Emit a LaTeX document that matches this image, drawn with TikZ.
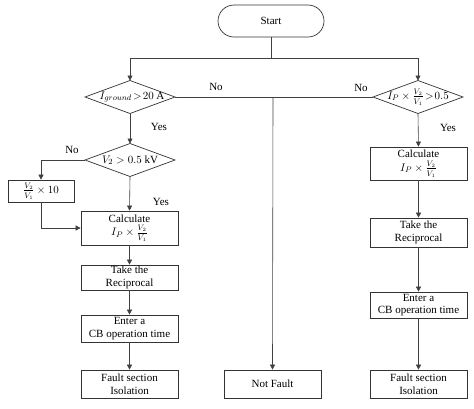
\documentclass[tikz,border=0pt]{standalone}
\usepackage{amsmath}
\usepackage{fontspec}
\setmainfont{Liberation Serif}
\usetikzlibrary{shapes.geometric,arrows.meta}
\newcommand{\drawdmd}[3]{%
  \coordinate (#1-n) at (#2,#3-16.5);
  \coordinate (#1-s) at (#2,#3+16.5);
  \coordinate (#1-e) at (#2+45,#3);
  \coordinate (#1-w) at (#2-45,#3);
  \draw[draw=black!80,line width=0.7pt] (#1-n) -- (#1-e) -- (#1-s) -- (#1-w) -- cycle;}
\newcommand{\vfr}{\genfrac{}{}{0.4pt}{1}{V_2\rule[-1.5pt]{0pt}{0pt}}{V_1\rule{0pt}{7pt}}}
\begin{document}
\begin{tikzpicture}[x=1pt,y=-1pt,
  font=\fontsize{11}{12.5}\selectfont,
  line/.style={draw=black!75,line width=0.6pt},
  arr/.style={line,-{Triangle[length=5pt,width=5pt]}},
  procbox/.style={draw=black!80,line width=0.7pt,minimum width=97pt,align=center,inner sep=1pt},
  dectext/.style={inner sep=0pt,align=center},
  lbl/.style={inner sep=1pt}]
\useasboundingbox (0,0) rectangle (474,408);
\node[draw=black!80,line width=0.7pt,rounded corners=16pt,minimum width=106pt,minimum height=32pt] (start) at (271,21) {Start};
\drawdmd{d1}{130}{97}
\drawdmd{d3}{418}{97}
\drawdmd{d2}{130}{160}
\node[dectext] (d1t) at (132,97) {$I_{ground}\!>\!20$ A};
\node[dectext] (d3t) at (418,97) {$I_P\times\vfr\!>\!0.5$};
\node[dectext] (d2t) at (130,160) {$V_2>0.5$ kV};
\node[procbox,minimum width=66pt,minimum height=22pt] (b10) at (41,191) {$\vfr\times 10$};
\node[procbox,minimum height=34pt] (c1) at (129.5,228) {Calculate\\[1pt]$I_P\times\vfr$};
\node[procbox,minimum height=25pt] (r1) at (129.5,277.5) {Take the\\Reciprocal};
\node[procbox,minimum height=27pt] (e1) at (129.5,328.5) {Enter a\\CB operation time};
\node[procbox,minimum height=28pt] (f1) at (129.5,384) {Fault section\\Isolation};
\node[procbox,minimum height=28pt] (nf) at (272.5,384) {Not Fault};
\node[procbox,minimum height=33pt] (c2) at (418.5,163.5) {Calculate\\[1pt]$I_P\times\vfr$};
\node[procbox,minimum height=29pt] (r2) at (418.5,232.5) {Take the\\Reciprocal};
\node[procbox,minimum height=26pt] (e2) at (418.5,305) {Enter a\\CB operation time};
\node[procbox,minimum height=28pt] (f2) at (418.5,384) {Fault section\\Isolation};
\coordinate (j0) at (271,58);
\coordinate (j1) at (273,97);
\draw[line] (start.south) -- (j0);
\draw[arr] (j0) -| (d1-n);
\draw[arr] (j0) -| (d3-n);
\draw[line] (d1-e) -- (d3-w);
\draw[arr] (j1) -- (nf.north);
\node[lbl] (no1) at (216,87) {No};
\node[lbl] (no2) at (361,88) {No};
\draw[arr] (d1-s) -- (d2-n);
\node[lbl] (y1) at (159,127) {Yes};
\draw[arr] (d2-w) -| (b10.north);
\node[lbl] (no3) at (72,150) {No};
\draw[arr] (d2-s) -- (c1.north);
\node[lbl] (y2) at (161,202) {Yes};
\draw[arr] (b10.south) |- (c1.west);
\draw[arr] (c1) -- (r1);
\draw[arr] (r1) -- (e1);
\draw[arr] (e1) -- (f1);
\draw[arr] (d3-s) -- (c2.north);
\node[lbl] (y3) at (448,128) {Yes};
\draw[arr] (c2) -- (r2);
\draw[arr] (r2) -- (e2);
\draw[arr] (e2) -- (f2);
\end{tikzpicture}
\end{document}
